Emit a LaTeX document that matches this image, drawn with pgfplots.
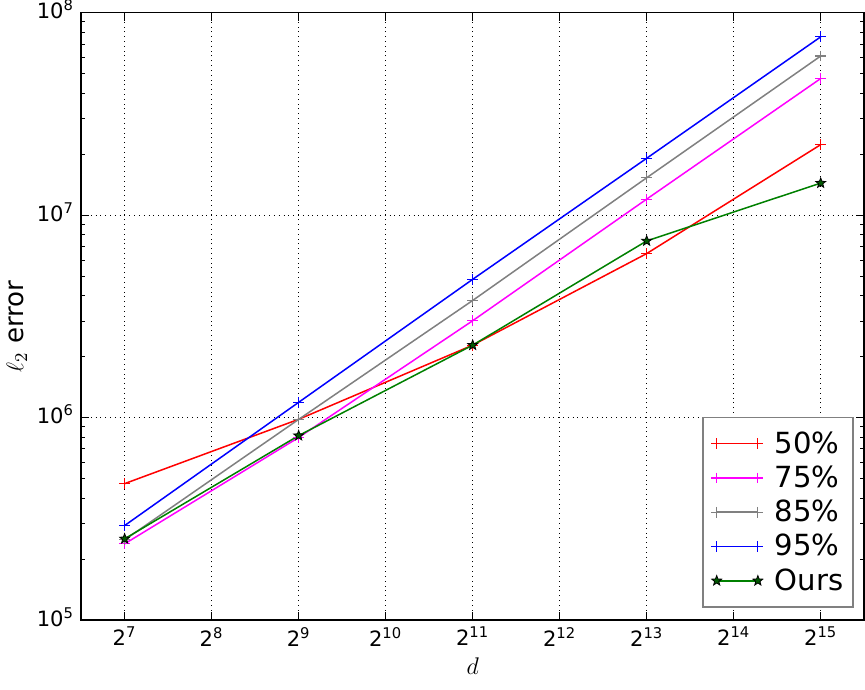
\documentclass[border=0pt]{standalone}
\usepackage{pgfplots}
\pgfplotsset{compat=1.18}
\usepackage{fontspec}
\setmainfont{DejaVu Sans}
\usetikzlibrary{plotmarks}
\definecolor{mgreen}{rgb}{0,0.5,0}
\definecolor{mgray}{rgb}{0.5,0.5,0.5}
\definecolor{mmag}{rgb}{1,0,1}
\definecolor{mred}{rgb}{1,0,0}
\definecolor{mblue}{rgb}{0,0,1}
\pgfdeclareplotmark{fstar}{%
  \pgfpathmoveto{\pgfqpointpolar{90}{\pgfplotmarksize}}%
  \pgfpathlineto{\pgfqpointpolar{126}{0.42\pgfplotmarksize}}%
  \pgfpathlineto{\pgfqpointpolar{162}{\pgfplotmarksize}}%
  \pgfpathlineto{\pgfqpointpolar{198}{0.42\pgfplotmarksize}}%
  \pgfpathlineto{\pgfqpointpolar{234}{\pgfplotmarksize}}%
  \pgfpathlineto{\pgfqpointpolar{270}{0.42\pgfplotmarksize}}%
  \pgfpathlineto{\pgfqpointpolar{306}{\pgfplotmarksize}}%
  \pgfpathlineto{\pgfqpointpolar{342}{0.42\pgfplotmarksize}}%
  \pgfpathlineto{\pgfqpointpolar{18}{\pgfplotmarksize}}%
  \pgfpathlineto{\pgfqpointpolar{54}{0.42\pgfplotmarksize}}%
  \pgfpathclose
  \pgfusepathqfillstroke
}
\begin{document}
\begin{tikzpicture}
\begin{axis}[
  scale only axis,
  width=390pt, height=302.5pt,
  xmode=log, ymode=log, log basis x=2,
  xmin=90.51, xmax=46341,
  ymin=1e5, ymax=1e8,
  xtick={128,256,512,1024,2048,4096,8192,16384,32768},
  xticklabels={2\textsuperscript{7},2\textsuperscript{8},2\textsuperscript{9},2\textsuperscript{10},2\textsuperscript{11},2\textsuperscript{12},2\textsuperscript{13},2\textsuperscript{14},2\textsuperscript{15}},
  ytick={1e5,1e6,1e7,1e8},
  yticklabels={10\textsuperscript{5},10\textsuperscript{6},10\textsuperscript{7},10\textsuperscript{8}},
  minor ytick={2e5,3e5,4e5,5e5,6e5,7e5,8e5,9e5,2e6,3e6,4e6,5e6,6e6,7e6,8e6,9e6,2e7,3e7,4e7,5e7,6e7,7e7,8e7,9e7},
  tick align=inside,
  major tick length=4pt, minor tick length=2pt,
  tick style={black, line width=0.5pt},
  ticklabel style={font=\fontsize{10.5}{12}\selectfont},
  yticklabel style={text height=6pt, text depth=0pt},
  xmajorgrids, ymajorgrids,
  major grid style={black, dotted, line width=0.5pt},
  axis line style={line width=0.8pt},
  xlabel={$d$}, ylabel={$\ell_2$ error},
  label style={font=\fontsize{13}{15}\selectfont},
  xlabel style={yshift=1pt, text depth=4pt},
  ylabel style={yshift=-2pt, xshift=-5pt},
  legend style={at={(0.987,0.02)}, anchor=south east, draw=mgray, line width=0.8pt,
    font=\fontsize{14.5}{17}\selectfont, row sep=0.8pt, inner xsep=3pt, inner ysep=5pt},
  legend cell align=left,
  legend image code/.code={\path (0pt,0pt) (30pt,0pt); \draw[#1, line width=0.75pt] plot coordinates {(3.5pt,0pt) (24pt,0pt)};},
  every axis plot/.append style={line width=0.75pt},
]
\addplot[mred, mark=+, mark size=2.7pt, mark options={line width=0.6pt}] coordinates {(128,4.72e5) (512,9.81e5) (2048,2.28e6) (8192,6.46e6) (32768,2.23e7)};
\addlegendentry{50\%}
\addplot[mmag, mark=+, mark size=2.7pt, mark options={line width=0.6pt}] coordinates {(128,2.38e5) (512,7.98e5) (2048,3.01e6) (8192,1.20e7) (32768,4.73e7)};
\addlegendentry{75\%}
\addplot[mgray, mark=+, mark size=2.7pt, mark options={line width=0.6pt}] coordinates {(128,2.49e5) (512,9.8e5) (2048,3.79e6) (8192,1.53e7) (32768,6.11e7)};
\addlegendentry{85\%}
\addplot[mblue, mark=+, mark size=2.7pt, mark options={line width=0.6pt}] coordinates {(128,2.93e5) (512,1.19e6) (2048,4.82e6) (8192,1.91e7) (32768,7.60e7)};
\addlegendentry{95\%}
\addplot[mgreen, mark=fstar, mark size=2.6pt, mark options={fill=mgreen!70!black, draw=black, line width=0.4pt}] coordinates {(128,2.52e5) (512,8.15e5) (2048,2.28e6) (8192,7.46e6) (32768,1.44e7)};
\addlegendentry{Ours}
\end{axis}
\end{tikzpicture}
\end{document}
